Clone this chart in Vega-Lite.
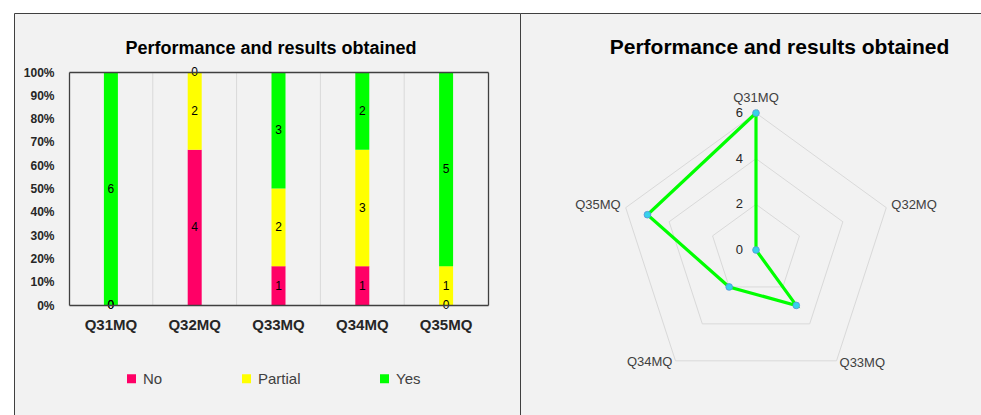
{
  "$schema": "https://vega.github.io/schema/vega-lite/v6.json",
  "autosize": {"type": "pad"},
  "padding": {"left": 13, "top": 12, "right": -3, "bottom": -3},
  "background": "white",
  "spacing": 0,
  "bounds": "flush",
  "config": {
    "font": "Liberation Sans",
    "view": {"fill": "#F2F2F2", "stroke": "#404040", "strokeWidth": 1},
    "title": {"font": "Liberation Sans", "fontWeight": "bold", "color": "#000000", "anchor": "middle", "frame": "group", "baseline": "middle"}
  },
  "datasets": {
    "bars": [
      {"q": "Q31MQ", "resp": "No", "n": 0},
      {"q": "Q31MQ", "resp": "Partial", "n": 0},
      {"q": "Q31MQ", "resp": "Yes", "n": 6},
      {"q": "Q32MQ", "resp": "No", "n": 4},
      {"q": "Q32MQ", "resp": "Partial", "n": 2},
      {"q": "Q32MQ", "resp": "Yes", "n": 0},
      {"q": "Q33MQ", "resp": "No", "n": 1},
      {"q": "Q33MQ", "resp": "Partial", "n": 2},
      {"q": "Q33MQ", "resp": "Yes", "n": 3},
      {"q": "Q34MQ", "resp": "No", "n": 1},
      {"q": "Q34MQ", "resp": "Partial", "n": 3},
      {"q": "Q34MQ", "resp": "Yes", "n": 2},
      {"q": "Q35MQ", "resp": "No", "n": 0},
      {"q": "Q35MQ", "resp": "Partial", "n": 1},
      {"q": "Q35MQ", "resp": "Yes", "n": 5}
    ],
    "gridcats": [
      {"q": "Q32MQ"}, {"q": "Q33MQ"}, {"q": "Q34MQ"}, {"q": "Q35MQ"}
    ],
    "radar": [
      {"q": "Q31MQ", "i": 0, "yes": 6},
      {"q": "Q32MQ", "i": 1, "yes": 0},
      {"q": "Q33MQ", "i": 2, "yes": 3},
      {"q": "Q34MQ", "i": 3, "yes": 2},
      {"q": "Q35MQ", "i": 4, "yes": 5}
    ],
    "rings": [
      {"q": "Q31MQ", "i": 0, "level": 2}, {"q": "Q32MQ", "i": 1, "level": 2}, {"q": "Q33MQ", "i": 2, "level": 2}, {"q": "Q34MQ", "i": 3, "level": 2}, {"q": "Q35MQ", "i": 4, "level": 2},
      {"q": "Q31MQ", "i": 0, "level": 4}, {"q": "Q32MQ", "i": 1, "level": 4}, {"q": "Q33MQ", "i": 2, "level": 4}, {"q": "Q34MQ", "i": 3, "level": 4}, {"q": "Q35MQ", "i": 4, "level": 4},
      {"q": "Q31MQ", "i": 0, "level": 6}, {"q": "Q32MQ", "i": 1, "level": 6}, {"q": "Q33MQ", "i": 2, "level": 6}, {"q": "Q34MQ", "i": 3, "level": 6}, {"q": "Q35MQ", "i": 4, "level": 6}
    ],
    "ticks": [{"level": 0}, {"level": 2}, {"level": 4}, {"level": 6}]
  },
  "hconcat": [
    {
      "width": 506,
      "height": 405,
      "title": {"text": "Performance and results obtained", "fontSize": 18, "offset": -45, "dx": 4},
      "resolve": {"axis": {"x": "independent", "y": "independent"}},
      "layer": [
        {
          "data": {"name": "gridcats"},
          "mark": {"type": "rule", "stroke": "#D9D9D9", "strokeWidth": 1},
          "encoding": {
            "x": {"field": "q", "type": "nominal", "bandPosition": 0,
              "scale": {"type": "band", "domain": ["Q31MQ", "Q32MQ", "Q33MQ", "Q34MQ", "Q35MQ"], "range": [55, 474], "paddingInner": 0, "paddingOuter": 0},
              "axis": null},
            "y": {"datum": 0, "type": "quantitative", "scale": {"domain": [0, 1], "range": [292, 59], "nice": false}, "axis": null},
            "y2": {"datum": 1}
          }
        },
        {
          "data": {"name": "bars"},
          "transform": [
            {"stack": "n", "groupby": ["q"], "sort": [{"field": "resp", "order": "ascending"}], "offset": "normalize", "as": ["y0", "y1"]}
          ],
          "mark": {"type": "bar", "width": {"band": 0.167}},
          "encoding": {
            "x": {"field": "q", "type": "nominal",
              "scale": {"type": "band", "domain": ["Q31MQ", "Q32MQ", "Q33MQ", "Q34MQ", "Q35MQ"], "range": [55, 474], "paddingInner": 0, "paddingOuter": 0},
              "axis": {"orient": "bottom", "offset": -113, "title": null, "labelAngle": 0, "domain": true, "domainColor": "#404040", "domainWidth": 1.3, "ticks": false, "tickSize": 0, "labelPadding": 12, "labelFontSize": 15, "labelFontWeight": "bold", "labelColor": "#262626", "grid": false, "zindex": 1}},
            "y": {"field": "y0", "type": "quantitative",
              "scale": {"domain": [0, 1], "range": [292, 59], "nice": false},
              "axis": {"orient": "left", "offset": -55, "title": null, "values": [0, 0.1, 0.2, 0.3, 0.4, 0.5, 0.6, 0.7, 0.8, 0.9, 1], "format": ".0%", "domain": true, "domainColor": "#404040", "domainWidth": 1.3, "ticks": false, "tickSize": 0, "labelPadding": 15, "labelFontSize": 12, "labelFontWeight": "bold", "labelColor": "#262626", "grid": false, "zindex": 1}},
            "y2": {"field": "y1"},
            "color": {"field": "resp", "type": "nominal",
              "scale": {"domain": ["No", "Partial", "Yes"], "range": ["#FF0066", "#FFFF00", "#00FF00"]},
              "legend": {"orient": "none", "legendX": 110, "legendY": 358, "direction": "horizontal", "title": null, "symbolType": "square", "symbolSize": 81, "symbolStrokeWidth": 0, "labelFontSize": 15, "labelColor": "#404040", "labelOffset": 4, "columnPadding": 76, "padding": 0}}
          }
        },
        {
          "data": {"name": "bars"},
          "transform": [
            {"stack": "n", "groupby": ["q"], "sort": [{"field": "resp", "order": "ascending"}], "offset": "normalize", "as": ["y0", "y1"]},
            {"calculate": "(datum.y0 + datum.y1) / 2", "as": "mid"}
          ],
          "mark": {"type": "text", "fontSize": 12, "color": "#000000", "baseline": "middle", "align": "center"},
          "encoding": {
            "x": {"field": "q", "type": "nominal",
              "scale": {"type": "band", "domain": ["Q31MQ", "Q32MQ", "Q33MQ", "Q34MQ", "Q35MQ"], "range": [55, 474], "paddingInner": 0, "paddingOuter": 0},
              "axis": {"orient": "top", "offset": -59, "title": null, "labels": false, "ticks": false, "tickSize": 0, "domain": true, "domainColor": "#404040", "domainWidth": 1.3, "grid": false, "zindex": 1}},
            "y": {"field": "mid", "type": "quantitative",
              "scale": {"domain": [0, 1], "range": [292, 59], "nice": false},
              "axis": {"orient": "right", "offset": -32, "title": null, "labels": false, "ticks": false, "tickSize": 0, "domain": true, "domainColor": "#404040", "domainWidth": 1.3, "grid": false, "zindex": 1}},
            "text": {"field": "n", "type": "quantitative"}
          }
        }
      ]
    },
    {
      "width": 465,
      "height": 405,
      "title": {"text": "Performance and results obtained", "fontSize": 21, "offset": -45, "dx": 27},
      "layer": [
        {
          "data": {"name": "rings"},
          "transform": [
            {"calculate": "datum.level * sin(2 * PI * datum.i / 5)", "as": "px"},
            {"calculate": "datum.level * cos(2 * PI * datum.i / 5)", "as": "py"}
          ],
          "mark": {"type": "line", "interpolate": "linear-closed", "stroke": "#D9D9D9", "strokeWidth": 1},
          "encoding": {
            "x": {"field": "px", "type": "quantitative", "scale": {"domain": [-6, 6], "range": [99, 373], "nice": false, "zero": false}, "axis": null},
            "y": {"field": "py", "type": "quantitative", "scale": {"domain": [-6, 6], "range": [374, 100], "nice": false, "zero": false}, "axis": null},
            "detail": {"field": "level", "type": "nominal"},
            "order": {"field": "i", "type": "quantitative"}
          }
        },
        {
          "data": {"name": "radar"},
          "transform": [
            {"calculate": "datum.yes * sin(2 * PI * datum.i / 5)", "as": "px"},
            {"calculate": "datum.yes * cos(2 * PI * datum.i / 5)", "as": "py"}
          ],
          "mark": {"type": "line", "interpolate": "linear-closed", "stroke": "#00FF00", "strokeWidth": 3.2},
          "encoding": {
            "x": {"field": "px", "type": "quantitative", "scale": {"domain": [-6, 6], "range": [99, 373], "nice": false, "zero": false}, "axis": null},
            "y": {"field": "py", "type": "quantitative", "scale": {"domain": [-6, 6], "range": [374, 100], "nice": false, "zero": false}, "axis": null},
            "order": {"field": "i", "type": "quantitative"}
          }
        },
        {
          "data": {"name": "radar"},
          "transform": [
            {"calculate": "datum.yes * sin(2 * PI * datum.i / 5)", "as": "px"},
            {"calculate": "datum.yes * cos(2 * PI * datum.i / 5)", "as": "py"}
          ],
          "mark": {"type": "circle", "size": 45, "fill": "#35D3EA", "stroke": "#5B8FD9", "strokeWidth": 0.8, "opacity": 1},
          "encoding": {
            "x": {"field": "px", "type": "quantitative", "scale": {"domain": [-6, 6], "range": [99, 373], "nice": false, "zero": false}, "axis": null},
            "y": {"field": "py", "type": "quantitative", "scale": {"domain": [-6, 6], "range": [374, 100], "nice": false, "zero": false}, "axis": null}
          }
        },
        {
          "data": {"name": "rings"},
          "transform": [
            {"filter": "datum.level == 6 && datum.i == 0"},
            {"calculate": "datum.level * sin(2 * PI * datum.i / 5)", "as": "px"},
            {"calculate": "datum.level * cos(2 * PI * datum.i / 5)", "as": "py"}
          ],
          "mark": {"type": "text", "fontSize": 13, "color": "#404040", "align": "center", "baseline": "alphabetic", "dy": -11},
          "encoding": {
            "x": {"field": "px", "type": "quantitative", "scale": {"domain": [-6, 6], "range": [99, 373], "nice": false, "zero": false}, "axis": null},
            "y": {"field": "py", "type": "quantitative", "scale": {"domain": [-6, 6], "range": [374, 100], "nice": false, "zero": false}, "axis": null},
            "text": {"field": "q", "type": "nominal"}
          }
        },
        {
          "data": {"name": "rings"},
          "transform": [
            {"filter": "datum.level == 6 && datum.i == 1"},
            {"calculate": "datum.level * sin(2 * PI * datum.i / 5)", "as": "px"},
            {"calculate": "datum.level * cos(2 * PI * datum.i / 5)", "as": "py"}
          ],
          "mark": {"type": "text", "fontSize": 13, "color": "#404040", "align": "left", "baseline": "middle", "dx": 5, "dy": -3},
          "encoding": {
            "x": {"field": "px", "type": "quantitative", "scale": {"domain": [-6, 6], "range": [99, 373], "nice": false, "zero": false}, "axis": null},
            "y": {"field": "py", "type": "quantitative", "scale": {"domain": [-6, 6], "range": [374, 100], "nice": false, "zero": false}, "axis": null},
            "text": {"field": "q", "type": "nominal"}
          }
        },
        {
          "data": {"name": "rings"},
          "transform": [
            {"filter": "datum.level == 6 && datum.i == 2"},
            {"calculate": "datum.level * sin(2 * PI * datum.i / 5)", "as": "px"},
            {"calculate": "datum.level * cos(2 * PI * datum.i / 5)", "as": "py"}
          ],
          "mark": {"type": "text", "fontSize": 13, "color": "#404040", "align": "left", "baseline": "middle", "dx": 3, "dy": 2},
          "encoding": {
            "x": {"field": "px", "type": "quantitative", "scale": {"domain": [-6, 6], "range": [99, 373], "nice": false, "zero": false}, "axis": null},
            "y": {"field": "py", "type": "quantitative", "scale": {"domain": [-6, 6], "range": [374, 100], "nice": false, "zero": false}, "axis": null},
            "text": {"field": "q", "type": "nominal"}
          }
        },
        {
          "data": {"name": "rings"},
          "transform": [
            {"filter": "datum.level == 6 && datum.i == 3"},
            {"calculate": "datum.level * sin(2 * PI * datum.i / 5)", "as": "px"},
            {"calculate": "datum.level * cos(2 * PI * datum.i / 5)", "as": "py"}
          ],
          "mark": {"type": "text", "fontSize": 13, "color": "#404040", "align": "right", "baseline": "middle", "dx": -3, "dy": 1},
          "encoding": {
            "x": {"field": "px", "type": "quantitative", "scale": {"domain": [-6, 6], "range": [99, 373], "nice": false, "zero": false}, "axis": null},
            "y": {"field": "py", "type": "quantitative", "scale": {"domain": [-6, 6], "range": [374, 100], "nice": false, "zero": false}, "axis": null},
            "text": {"field": "q", "type": "nominal"}
          }
        },
        {
          "data": {"name": "rings"},
          "transform": [
            {"filter": "datum.level == 6 && datum.i == 4"},
            {"calculate": "datum.level * sin(2 * PI * datum.i / 5)", "as": "px"},
            {"calculate": "datum.level * cos(2 * PI * datum.i / 5)", "as": "py"}
          ],
          "mark": {"type": "text", "fontSize": 13, "color": "#404040", "align": "right", "baseline": "middle", "dx": -5, "dy": -3},
          "encoding": {
            "x": {"field": "px", "type": "quantitative", "scale": {"domain": [-6, 6], "range": [99, 373], "nice": false, "zero": false}, "axis": null},
            "y": {"field": "py", "type": "quantitative", "scale": {"domain": [-6, 6], "range": [374, 100], "nice": false, "zero": false}, "axis": null},
            "text": {"field": "q", "type": "nominal"}
          }
        },
        {
          "data": {"name": "ticks"},
          "mark": {"type": "text", "fontSize": 13, "color": "#262626", "align": "right", "baseline": "middle", "dx": -13},
          "encoding": {
            "x": {"datum": 0, "type": "quantitative", "scale": {"domain": [-6, 6], "range": [99, 373], "nice": false, "zero": false}, "axis": null},
            "y": {"field": "level", "type": "quantitative", "scale": {"domain": [-6, 6], "range": [374, 100], "nice": false, "zero": false}, "axis": null},
            "text": {"field": "level", "type": "quantitative"}
          }
        }
      ]
    }
  ]
}
